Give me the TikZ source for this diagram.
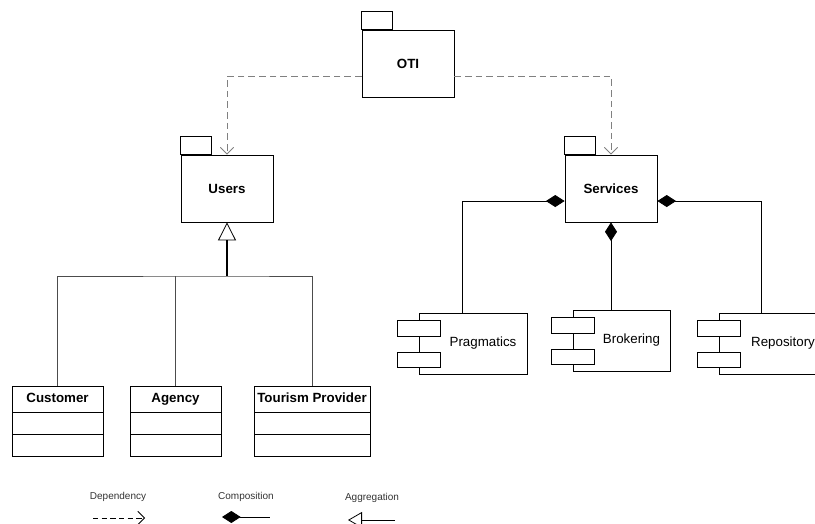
\documentclass[tikz,border=0pt]{standalone}
\usepackage{fontspec}
\setmainfont{Liberation Sans}
\usetikzlibrary{arrows.meta,shapes.multipart,positioning}

\begin{document}
\begin{tikzpicture}[x=0.75pt, y=-0.75pt, line width=0.6pt,
    pkg/.style = {draw, minimum width=69pt, minimum height=50.25pt, font=\fontsize{10}{12}\selectfont\bfseries},
    cls/.style = {draw, anchor=north, rectangle split, rectangle split parts=3, minimum width=68.25pt,
      inner xsep=1.5pt, inner ysep=3.4pt, rectangle split empty part height=9pt,
      rectangle split empty part depth=0pt, font=\fontsize{10}{12}\selectfont\bfseries},
    comp/.style = {draw, fill=white, minimum height=45.75pt, font=\fontsize{10}{12}\selectfont},
    dep/.style = {draw=black!50, dash pattern=on 5pt off 3pt, -{Straight Barb[length=5pt,width=10pt]}},
    part/.style = {draw=black, {Diamond[length=14pt,width=9pt]}-},
    gen/.style = {draw=black!70},
    note/.style = {font=\fontsize{7.5}{9}\selectfont, text=black!80}]
      \useasboundingbox (0,0) rectangle (815,524);

      % packages
      \node[pkg] (oti) at (408,63.5) {OTI};
      \node[pkg] (users) at (227,188.5) {Users};
      \node[pkg] (serv) at (611,188.5) {Services};
      \foreach \p in {oti,users,serv}
        \draw (\p.north west) rectangle ++(23.25pt,13.5pt);

      % classes
      \node[cls] (cust) at (57.5,386) {\strut Customer\nodepart{two}\nodepart{three}};
      \node[cls] (agen) at (175.5,386) {\strut Agency\nodepart{two}\nodepart{three}};
      \node[cls, minimum width=87pt] (tour) at (312,386) {\strut Tourism Provider\nodepart{two}\nodepart{three}};

      % components
      \node[comp, minimum width=81pt] (prag) at (473,343.5) {\hspace*{15pt}Pragmatics};
      \node[comp, minimum width=72.75pt] (brok) at (621.5,340.5) {\hspace*{15pt}Brokering};
      \node[comp, minimum width=81pt] (repo) at (773,343.5) {\hspace*{15pt}Repository};
      \foreach \c in {prag,brok,repo} {
        \draw[fill=white] ([shift={(-15.75pt,-6pt)}]\c.north west) rectangle ++(32.25pt,-12pt);
        \draw[fill=white] ([shift={(-15.75pt,5.25pt)}]\c.south west) rectangle ++(32.25pt,11.25pt);
      }

      % dependencies
      \draw[dep] ([yshift=-9.4pt]oti.west) -| (users.north);
      \draw[dep] ([yshift=-9.4pt]oti.east) -| (serv.north);

      % compositions
      \draw[part] ([yshift=-9.4pt]serv.west) -| ([xshift=-8.25pt]prag.north);
      \draw[part] (serv.south) -- (brok.north -| serv.south);
      \draw[part] ([yshift=-9.4pt]serv.east) -| ([xshift=-9pt]repo.north);

      % generalization
      \coordinate (split) at (227,276);
      \draw[line width=1.2pt, -{Triangle[open,length=13.5pt,width=13.5pt,line width=0.6pt]}] (split) -- (users.south);
      \draw[gen] (cust.north) |- (split) -| (tour.north);
      \draw[gen] (agen.north) -- (agen.north |- split);

      % legend
      \node[note] (ldep) at (118,497) {Dependency};
      \node[note] (lcomp) at (246,497) {Composition};
      \node[note] (lagg) at (372,498) {Aggregation};
      \coordinate (d1) at (93,518);
      \coordinate (d2) at (145,518);
      \coordinate (c1) at (222,517);
      \coordinate (c2) at (270,517);
      \coordinate (a1) at (348,520);
      \coordinate (a2) at (395,520);
      \draw[dep, draw=black, dash pattern=on 4pt off 2.5pt] (d1) -- (d2);
      \draw[part] (c1) -- (c2);
      \draw[-{Triangle[open,length=10.5pt,width=12pt]}] (a2) -- (a1);
    \end{tikzpicture}
\end{document}
